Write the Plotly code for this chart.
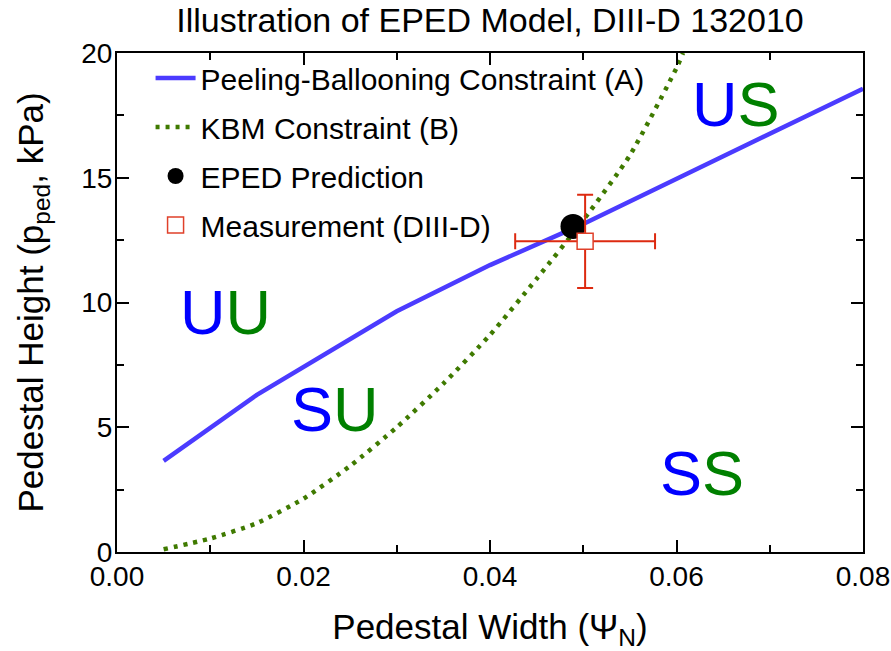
import plotly.graph_objects as go

# ---- data ----
pb_width = [0.005, 0.015, 0.030, 0.040, 0.050, 0.060, 0.070, 0.080]
pb_height = [3.65, 6.30, 9.65, 11.50, 13.15, 14.97, 16.77, 18.57]

kbm_width = [0.005, 0.010, 0.015, 0.020, 0.025, 0.030, 0.035, 0.040, 0.045,
             0.050, 0.055, 0.060, 0.0607]
kbm_height = [0.11, 0.54, 1.16, 2.14, 3.45, 5.00, 6.75, 8.70, 10.95,
              13.30, 15.90, 19.40, 20.00]

eped_width = [0.0489]
eped_height = [13.05]

meas_width = [0.0502]
meas_height = [12.45]
meas_width_err = [0.0075]
meas_height_err = [1.87]

region_labels = [("U", "U"), ("S", "U"), ("U", "S"), ("S", "S")]
region_x = [0.0116, 0.0234, 0.0664, 0.0627]
region_y = [9.62, 5.73, 17.96, 3.17]

x_ticks = [0.00, 0.02, 0.04, 0.06, 0.08]
x_tick_text = ["0.00", "0.02", "0.04", "0.06", "0.08"]
y_ticks = [0, 5, 10, 15, 20]
y_tick_text = ["0", "5", "10", "15", "20"]

FONT = "Liberation Sans, Arial, Helvetica, sans-serif"
BLUE_TXT = "#0000ff"
GREEN_TXT = "#008000"

fig = go.Figure()

fig.add_trace(go.Scatter(
    x=pb_width, y=pb_height, mode="lines",
    name="Peeling-Ballooning Constraint (A)", legendgroup="a",
    line=dict(color="#4b3bff", width=4.5),
))
fig.add_trace(go.Scatter(
    x=kbm_width, y=kbm_height, mode="lines",
    name="KBM Constraint (B)", legendgroup="b",
    line=dict(color="#3f7a00", width=4.5, dash="4px,6px", shape="spline", smoothing=0.6),
))
fig.add_trace(go.Scatter(
    x=eped_width, y=eped_height, mode="markers",
    name="EPED Prediction", legendgroup="c",
    marker=dict(color="black", size=25, symbol="circle"),
))
fig.add_trace(go.Scatter(
    x=meas_width, y=meas_height, mode="markers",
    name="Measurement (DIII-D)", legendgroup="d",
    marker=dict(color="white", size=16, symbol="square",
                line=dict(color="#e0402a", width=1.5)),
    error_x=dict(type="data", array=meas_width_err, color="#dd2a10",
                 thickness=2, width=8),
    error_y=dict(type="data", array=meas_height_err, color="#dd2a10",
                 thickness=2, width=8),
))

for (a, b), xx, yy in zip(region_labels, region_x, region_y):
    fig.add_annotation(
        x=xx, y=yy, xref="x", yref="y", showarrow=False,
        text=f"<span style='color:{BLUE_TXT}'>{a}</span>"
             f"<span style='color:{GREEN_TXT}'>{b}</span>",
        font=dict(family=FONT, size=63),
        xanchor="center", yanchor="middle",
    )

axis_common = dict(
    showline=True, linecolor="black", linewidth=2, mirror="ticks",
    ticks="inside", ticklen=12, tickwidth=2, tickcolor="black",
    showgrid=False, zeroline=False, automargin=False,
    tickfont=dict(family=FONT, size=28, color="black"),
)

fig.update_xaxes(
    range=[0, 0.08], tickvals=x_ticks, ticktext=x_tick_text,
    minor=dict(ticks="inside", ticklen=7, tickwidth=2, tickcolor="black", dtick=0.01,
               tick0=0),
    ticklabelstandoff=-2,
    title=dict(text="Pedestal Width (Ψ<sub>N</sub>)", font=dict(family=FONT, size=35, color="black"),
               standoff=24),
    **axis_common,
)
fig.update_yaxes(
    range=[0, 20], tickvals=y_ticks, ticktext=y_tick_text,
    minor=dict(ticks="inside", ticklen=7, tickwidth=2, tickcolor="black", dtick=2.5,
               tick0=0),
    ticklabelstandoff=-3,
    title=dict(text="Pedestal Height (p<sub>ped</sub>, kPa)",
               font=dict(family=FONT, size=35, color="black"), standoff=27),
    **axis_common,
)

fig.update_layout(
    width=891, height=651,
    margin=dict(l=117, r=28, t=53, b=99, autoexpand=False),
    paper_bgcolor="white", plot_bgcolor="white",
    title=dict(text="Illustration of EPED Model, DIII-D 132010",
               font=dict(family=FONT, size=34, color="black"),
               x=0.5, xref="paper", xanchor="center",
               y=1 - 20 / 651, yref="container", yanchor="middle"),
    legend=dict(x=0.045, y=1.002, xanchor="left", yanchor="top",
                bgcolor="rgba(0,0,0,0)", font=dict(family=FONT, size=30, color="black"),
                tracegroupgap=7, itemwidth=40),
    showlegend=True,
)

fig.write_html("out.html",
               config={"displayModeBar": False},
               post_script="document.body.style.margin='0';document.body.style.overflow='hidden';")
